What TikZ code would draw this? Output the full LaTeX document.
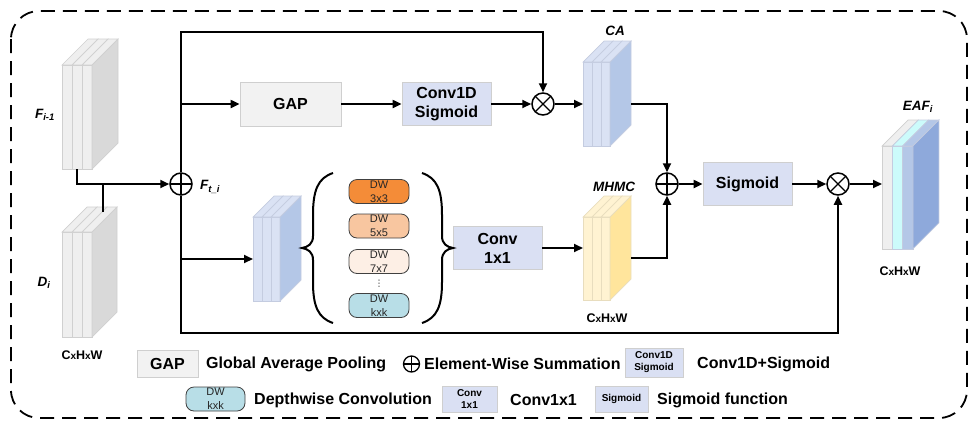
\documentclass[tikz,border=0pt]{standalone}
\usepackage{fontspec}
\setmainfont{Liberation Sans}
\newfontfamily\symfont{DejaVu Sans}
\usetikzlibrary{arrows.meta,calc}

\definecolor{gapfill}{HTML}{F2F2F2}
\definecolor{boxline}{HTML}{CFCFCF}
\definecolor{opfill}{HTML}{DAE0F3}
\definecolor{dwa}{HTML}{F48C38}
\definecolor{dwb}{HTML}{F8C6A0}
\definecolor{dwc}{HTML}{FDEFE5}
\definecolor{dwk}{HTML}{B8DEE7}
\definecolor{grayfront}{HTML}{EFEFEF}
\definecolor{grayside}{HTML}{D9D9D9}
\definecolor{grayline}{HTML}{D0D0D0}
\definecolor{bluefront}{HTML}{DAE2F4}
\definecolor{blueside}{HTML}{B4C7E7}
\definecolor{blueline}{HTML}{C4CCE0}
\definecolor{yelfront}{HTML}{FFF3D2}
\definecolor{yelside}{HTML}{FFE59C}
\definecolor{yelline}{HTML}{E8DDBE}
\definecolor{cyanfront}{HTML}{CCFBFB}
\definecolor{deepside}{HTML}{8EA9DB}
\definecolor{dwtext}{HTML}{262626}

% one slice of a feature stack: x, width, top, bottom, depth, fill, stroke
\newcommand\featslice[7]{%
  \filldraw[fill=#6, draw=#7, line width=0.7pt] (#1,#3) rectangle ({#1+#2},#4);
  \filldraw[fill=#6, draw=#7, line width=0.7pt] (#1,#3) -- ({#1+#5},{#3-#5}) -- ({#1+#2+#5},{#3-#5}) -- ({#1+#2},#3) -- cycle;}
% side face of a feature stack: x, top, bottom, depth, fill, stroke
\newcommand\featside[6]{%
  \filldraw[fill=#5, draw=#6, line width=0.7pt] (#1,#2) -- ({#1+#4},{#2-#4}) -- ({#1+#4},{#3-#4}) -- (#1,#3) -- cycle;}
\newcommand\sx{{\fontsize{10}{11}\selectfont x}}

\tikzset{
  box/.style={draw=boxline, line width=0.8pt, align=center, inner sep=0pt,
    font=\bfseries\fontsize{16}{19}\selectfont},
  gapbox/.style={box, fill=gapfill},
  opbox/.style={box, fill=opfill},
  smallbox/.style={opbox, font=\bfseries\fontsize{10}{12}\selectfont},
  dwbox/.style={draw=black!75, line width=0.8pt, rounded corners=8pt, align=center,
    inner sep=0pt, minimum width=60pt, minimum height=24pt, text=dwtext,
    font=\fontsize{11}{14}\selectfont},
  oplus/.style={circle, draw, line width=1.5pt, inner sep=0pt, minimum size=22pt,
    path picture={\draw[line width=1.3pt] (path picture bounding box.north) -- (path picture bounding box.south)
      (path picture bounding box.west) -- (path picture bounding box.east);}},
  otimes/.style={circle, draw, line width=1.5pt, inner sep=0pt, minimum size=22pt,
    path picture={\draw[line width=1.3pt] (path picture bounding box.north west) -- (path picture bounding box.south east)
      (path picture bounding box.south west) -- (path picture bounding box.north east);}},
  lbl/.style={font=\bfseries\itshape\fontsize{13.5}{15}\selectfont},
  dimlbl/.style={font=\bfseries\fontsize{12.5}{14}\selectfont},
  legtxt/.style={anchor=west, inner sep=0pt, font=\bfseries\fontsize{16}{18}\selectfont},
  ln/.style={line width=2pt},
  arr/.style={line width=2pt, -{Triangle[length=9pt,width=8pt]}},
}

\begin{document}
\begin{tikzpicture}[x=1pt, y=-1pt]
\useasboundingbox (0,0) rectangle (971,421);

% dashed frame
\draw[line width=1.8pt, dash pattern=on 14pt off 8pt, rounded corners=28pt] (11,11) rectangle (967,418);

% feature stacks
\featslice{62}{10}{65}{169}{26}{grayfront}{grayline}
\featslice{72}{10}{65}{169}{26}{grayfront}{grayline}
\featslice{82}{10}{65}{169}{26}{grayfront}{grayline}
\featside{92}{65}{169}{26}{grayside}{grayline}

\featslice{62}{10}{232}{337}{25}{grayfront}{grayline}
\featslice{72}{10}{232}{337}{25}{grayfront}{grayline}
\featslice{82}{10}{232}{337}{25}{grayfront}{grayline}
\featside{92}{232}{337}{25}{grayside}{grayline}

\featslice{253}{9}{217}{301}{21}{bluefront}{blueline}
\featslice{262}{9}{217}{301}{21}{bluefront}{blueline}
\featslice{271}{9}{217}{301}{21}{bluefront}{blueline}
\featside{280}{217}{301}{21}{blueside}{blueline}

\featslice{583}{9}{62}{146}{21}{bluefront}{blueline}
\featslice{592}{9}{62}{146}{21}{bluefront}{blueline}
\featslice{601}{9}{62}{146}{21}{bluefront}{blueline}
\featside{610}{62}{146}{21}{blueside}{blueline}

\featslice{583}{9}{217}{300}{21}{yelfront}{yelline}
\featslice{592}{9}{217}{300}{21}{yelfront}{yelline}
\featslice{601}{9}{217}{300}{21}{yelfront}{yelline}
\featside{610}{217}{300}{21}{yelside}{yelline}

\featslice{882}{10.3}{146}{249}{26}{grayfront}{grayline}
\featslice{892.3}{10.3}{146}{249}{26}{cyanfront}{blueline}
\featslice{902.6}{10.3}{146}{249}{26}{blueside}{blueline}
\featside{912.9}{146}{249}{26}{deepside}{blueline}

% labels of the stacks
\node[lbl] (lF) at (45,115) {F\textsubscript{i-1}};
\node[lbl] (lD) at (44,283) {D\textsubscript{i}};
\node[dimlbl] (dimD) at (82,355) {C\sx H\sx W};
\node[lbl] (lFt) at (210,187) {F\textsubscript{t\_i}};
\node[lbl] (lCA) at (615,31) {CA};
\node[lbl] (lM) at (614,187) {MHMC};
\node[dimlbl] (dimM) at (607,318) {C\sx H\sx W};
\node[lbl] (lE) at (918,107) {EAF\textsubscript{i}};
\node[dimlbl] (dimE) at (900,271) {C\sx H\sx W};

% operators
\node[oplus] (sum1) at (181,184) {};
\node[otimes] (mul1) at (543,104) {};
\node[oplus] (sum2) at (667,184) {};
\node[otimes] (mul2) at (838,184) {};

% blocks
\node[gapbox, minimum width=101pt, minimum height=44pt] (gap) at (290.5,104) {GAP};
\node[opbox, minimum width=89pt, minimum height=43pt] (c1d) at (446.5,104) {Conv1D\\Sigmoid};
\node[opbox, minimum width=89pt, minimum height=43pt] (sig) at (747.5,184) {Sigmoid};
\node[opbox, minimum width=89pt, minimum height=43pt] (conv) at (497.5,248) {Conv\\1x1};

% multi-kernel depthwise branch
\node[dwbox, fill=dwa] (dw3) at (379,191.5) {DW\\3x3};
\node[dwbox, fill=dwb] (dw5) at (379,226) {DW\\5x5};
\node[dwbox, fill=dwc] (dw7) at (379,261.5) {DW\\7x7};
\node[inner sep=0pt, text=dwtext, font=\symfont\fontsize{9}{9}\selectfont] (dots) at (379,283.5) {⋮};
\node[dwbox, fill=dwk] (dwk) at (379,305.5) {DW\\kxk};

\draw[line width=2pt] (333,173) .. controls (318,178) and (313,190) .. (313,215) -- (313,236)
  .. controls (313,244) and (308,247) .. (302,248) .. controls (308,249) and (313,252) .. (313,260)
  -- (313,282) .. controls (313,306) and (318,318) .. (333,323);
\draw[line width=2pt] (422,173) .. controls (437,178) and (442,190) .. (442,215) -- (442,236)
  .. controls (442,244) and (447,247) .. (453,248) .. controls (447,249) and (442,252) .. (442,260)
  -- (442,282) .. controls (442,306) and (437,318) .. (422,323);

% connector end points on the stacks
\coordinate (Fout) at (77,169);
\coordinate (Dout) at (103,212);
\coordinate (topY) at (0,32);
\coordinate (botY) at (0,333);
\coordinate (CAin) at (583,104);
\coordinate (CAout) at (631,104);
\coordinate (Pin) at (253,259);
\coordinate (Min) at (583,248);
\coordinate (Mout) at (631,258);
\coordinate (Ein) at (882,184);

% connectors
\draw[arr] (Fout) |- (sum1.west);
\draw[ln] (Dout) -- (Dout |- sum1);
\draw[arr] (sum1.north) |- (topY -| mul1) -- (mul1.north);
\draw[arr] (sum1 |- gap) -- (gap.west);
\draw[arr] (gap.east) -- (c1d.west);
\draw[arr] (c1d.east) -- (mul1.west);
\draw[arr] (mul1.east) -- (CAin);
\draw[arr] (CAout) -| (sum2.north);
\draw[arr] (sum1.south) |- (botY -| mul2) -- (mul2.south);
\draw[arr] (sum1 |- Pin) -- (Pin);
\draw[arr] (conv.east) -- (Min);
\draw[arr] (Mout) -| (sum2.south);
\draw[arr] (sum2.east) -- (sig.west);
\draw[arr] (sig.east) -- (mul2.west);
\draw[arr] (mul2.east) -- (Ein);

% legend
\node[gapbox, minimum width=61pt, minimum height=27pt] (kgap) at (167.5,363.5) {GAP};
\node[legtxt] (tgap) at (206,364) {Global Average Pooling};
\node[oplus, minimum size=16pt, line width=1.3pt] (ksum) at (411.5,364) {};
\node[legtxt] (tsum) at (424,364) {Element-Wise Summation};
\node[smallbox, minimum width=58pt, minimum height=29pt] (kc1d) at (654,362.5) {Conv1D\\Sigmoid};
\node[legtxt] (tc1d) at (697,364) {Conv1D+Sigmoid};
\node[dwbox, fill=dwk, minimum width=59pt, minimum height=24pt] (kdw) at (215.5,399) {DW\\kxk};
\node[legtxt] (tdw) at (254,400) {Depthwise Convolution};
\node[smallbox, minimum width=55pt, minimum height=26pt] (kconv) at (469.5,399) {Conv\\1x1};
\node[legtxt] (tconv) at (510,400) {Conv1x1};
\node[smallbox, minimum width=53pt, minimum height=26pt] (ksig) at (621.5,399) {Sigmoid};
\node[legtxt] (tsig) at (657,400) {Sigmoid function};
\end{tikzpicture}
\end{document}
